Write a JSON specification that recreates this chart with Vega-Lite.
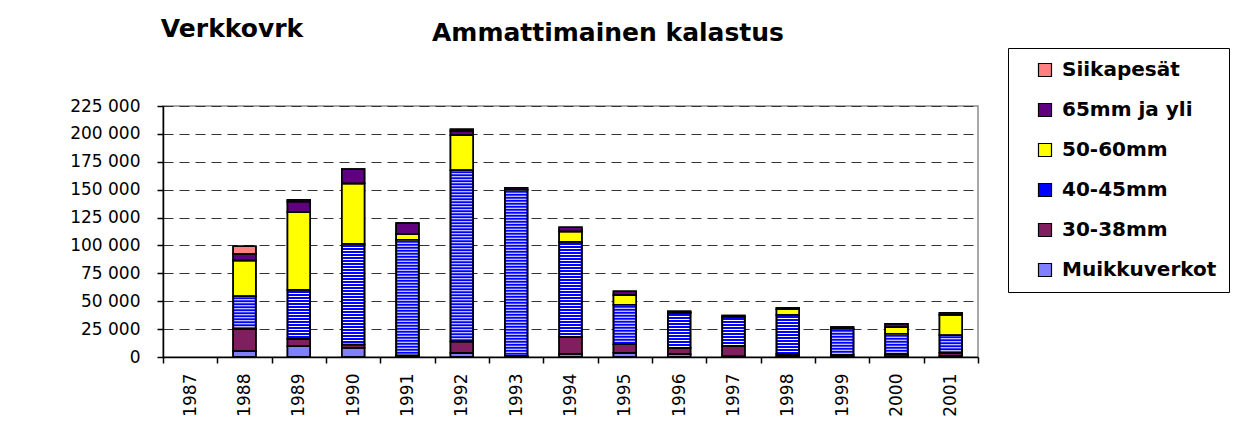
{
  "$schema": "https://vega.github.io/schema/vega-lite/v6.json",
  "width": 815,
  "height": 251,
  "autosize": {"type": "none"},
  "padding": {"left": 163, "top": 106, "right": 269, "bottom": 66},
  "background": "white",
  "config": {
    "locale": {"number": {"decimal": ",", "thousands": " ", "grouping": [3], "currency": ["", ""]}},
    "view": {"stroke": "#8c8c8c", "strokeWidth": 1.5},
    "font": "DejaVu Sans",
    "axis": {"labelFont": "DejaVu Sans", "labelColor": "black", "domainColor": "black", "tickColor": "black", "domainWidth": 1.5, "tickWidth": 1.5, "tickSize": 6, "titleColor": "black", "titleFont": "DejaVu Sans", "titleFontWeight": "bold"}
  },
  "data": {"values": [
    {"year": "1988", "cat": "Muikkuverkot", "v": 5100},
    {"year": "1988", "cat": "30-38mm", "v": 20300},
    {"year": "1988", "cat": "40-45mm", "v": 29000},
    {"year": "1988", "cat": "50-60mm", "v": 32200},
    {"year": "1988", "cat": "65mm ja yli", "v": 6000},
    {"year": "1988", "cat": "Siikapesät", "v": 6600},
    {"year": "1989", "cat": "Muikkuverkot", "v": 9600},
    {"year": "1989", "cat": "30-38mm", "v": 6800},
    {"year": "1989", "cat": "40-45mm", "v": 43600},
    {"year": "1989", "cat": "50-60mm", "v": 70000},
    {"year": "1989", "cat": "65mm ja yli", "v": 9500},
    {"year": "1989", "cat": "Siikapesät", "v": 1500},
    {"year": "1990", "cat": "Muikkuverkot", "v": 8400},
    {"year": "1990", "cat": "30-38mm", "v": 2700},
    {"year": "1990", "cat": "40-45mm", "v": 90300},
    {"year": "1990", "cat": "50-60mm", "v": 54100},
    {"year": "1990", "cat": "65mm ja yli", "v": 13100},
    {"year": "1991", "cat": "Muikkuverkot", "v": 800},
    {"year": "1991", "cat": "30-38mm", "v": 600},
    {"year": "1991", "cat": "40-45mm", "v": 103800},
    {"year": "1991", "cat": "50-60mm", "v": 4800},
    {"year": "1991", "cat": "65mm ja yli", "v": 10100},
    {"year": "1992", "cat": "Muikkuverkot", "v": 3600},
    {"year": "1992", "cat": "30-38mm", "v": 10400},
    {"year": "1992", "cat": "40-45mm", "v": 153300},
    {"year": "1992", "cat": "50-60mm", "v": 31400},
    {"year": "1992", "cat": "65mm ja yli", "v": 3900},
    {"year": "1992", "cat": "Siikapesät", "v": 1500},
    {"year": "1993", "cat": "Muikkuverkot", "v": 500},
    {"year": "1993", "cat": "30-38mm", "v": 500},
    {"year": "1993", "cat": "40-45mm", "v": 149000},
    {"year": "1993", "cat": "65mm ja yli", "v": 1800},
    {"year": "1994", "cat": "Muikkuverkot", "v": 3000},
    {"year": "1994", "cat": "30-38mm", "v": 15200},
    {"year": "1994", "cat": "40-45mm", "v": 84900},
    {"year": "1994", "cat": "50-60mm", "v": 9500},
    {"year": "1994", "cat": "65mm ja yli", "v": 3600},
    {"year": "1995", "cat": "Muikkuverkot", "v": 3900},
    {"year": "1995", "cat": "30-38mm", "v": 7500},
    {"year": "1995", "cat": "40-45mm", "v": 35500},
    {"year": "1995", "cat": "50-60mm", "v": 8700},
    {"year": "1995", "cat": "65mm ja yli", "v": 3300},
    {"year": "1996", "cat": "Muikkuverkot", "v": 2400},
    {"year": "1996", "cat": "30-38mm", "v": 6000},
    {"year": "1996", "cat": "40-45mm", "v": 31000},
    {"year": "1996", "cat": "50-60mm", "v": 800},
    {"year": "1996", "cat": "65mm ja yli", "v": 800},
    {"year": "1997", "cat": "Muikkuverkot", "v": 500},
    {"year": "1997", "cat": "30-38mm", "v": 9100},
    {"year": "1997", "cat": "40-45mm", "v": 26300},
    {"year": "1997", "cat": "65mm ja yli", "v": 1400},
    {"year": "1998", "cat": "Muikkuverkot", "v": 1000},
    {"year": "1998", "cat": "30-38mm", "v": 2000},
    {"year": "1998", "cat": "40-45mm", "v": 34600},
    {"year": "1998", "cat": "50-60mm", "v": 5100},
    {"year": "1998", "cat": "65mm ja yli", "v": 1500},
    {"year": "1999", "cat": "Muikkuverkot", "v": 500},
    {"year": "1999", "cat": "30-38mm", "v": 1500},
    {"year": "1999", "cat": "40-45mm", "v": 23400},
    {"year": "1999", "cat": "65mm ja yli", "v": 1500},
    {"year": "2000", "cat": "Muikkuverkot", "v": 500},
    {"year": "2000", "cat": "30-38mm", "v": 2000},
    {"year": "2000", "cat": "40-45mm", "v": 18400},
    {"year": "2000", "cat": "50-60mm", "v": 5700},
    {"year": "2000", "cat": "65mm ja yli", "v": 3300},
    {"year": "2001", "cat": "Muikkuverkot", "v": 1000},
    {"year": "2001", "cat": "30-38mm", "v": 2900},
    {"year": "2001", "cat": "40-45mm", "v": 15500},
    {"year": "2001", "cat": "50-60mm", "v": 18500},
    {"year": "2001", "cat": "65mm ja yli", "v": 1800}
  ]},
  "transform": [{"stack": "v", "groupby": ["year"], "as": ["y0", "y1"]}],
  "encoding": {
    "x": {
      "field": "year", "type": "nominal",
      "scale": {"domain": ["1987","1988","1989","1990","1991","1992","1993","1994","1995","1996","1997","1998","1999","2000","2001"], "paddingInner": 0, "paddingOuter": 0},
      "axis": {
        "title": "Ammattimainen kalastus", "titleX": 444.5, "titleY": -317, "titleAngle": 0,
        "titleAlign": "center", "titleBaseline": "alphabetic", "titleFontSize": 25,
        "labelAngle": 270, "labelAlign": "right", "labelBaseline": "middle",
        "labelFontSize": 17, "labelPadding": 10, "tickBand": "extent", "grid": false
      }
    },
    "y": {
      "field": "y1", "type": "quantitative",
      "scale": {"domain": [0, 225000], "nice": false},
      "axis": {
        "title": "Verkkovrk", "titleX": 68.5, "titleY": -70, "titleAngle": 0,
        "titleAlign": "center", "titleBaseline": "alphabetic", "titleFontSize": 25,
        "values": [0, 25000, 50000, 75000, 100000, 125000, 150000, 175000, 200000, 225000],
        "format": ",d", "labelFontSize": 17, "labelPadding": 17,
        "grid": true, "gridColor": "#333333", "gridDash": [10, 6], "gridWidth": 1
      }
    },
    "y2": {"field": "y0"}
  },
  "layer": [
    {
      "mark": {"type": "bar", "width": {"band": 0.42}, "stroke": "black", "strokeWidth": 1.5},
      "encoding": {
        "fill": {
          "field": "cat", "type": "nominal",
          "scale": {
            "domain": ["Siikapesät", "65mm ja yli", "50-60mm", "40-45mm", "30-38mm", "Muikkuverkot"],
            "range": ["#FF8080", "#600080", "#FFFF00", "#0000FF", "#7F1F5F", "#8080FF"]
          },
          "legend": {
            "orient": "none", "legendX": 845, "legendY": -58, "title": null,
            "strokeColor": "black", "padding": 12, "rowPadding": 20,
            "symbolType": "square", "symbolSize": 169, "symbolStrokeColor": "black", "symbolStrokeWidth": 1.2,
            "symbolOffset": 15,
            "labelFont": "DejaVu Sans", "labelFontWeight": "bold", "labelFontSize": 20, "labelColor": "black", "labelOffset": 7
          }
        }
      }
    },
    {
      "transform": [{"filter": "datum.cat === '40-45mm'"}],
      "mark": {"type": "rule", "stroke": "white", "strokeWidth": 20.5, "strokeDash": [1, 2]},
      "encoding": {}
    },
    {
      "mark": {"type": "bar", "width": {"band": 0.42}, "fillOpacity": 0, "stroke": "black", "strokeWidth": 1.5},
      "encoding": {}
    }
  ]
}
